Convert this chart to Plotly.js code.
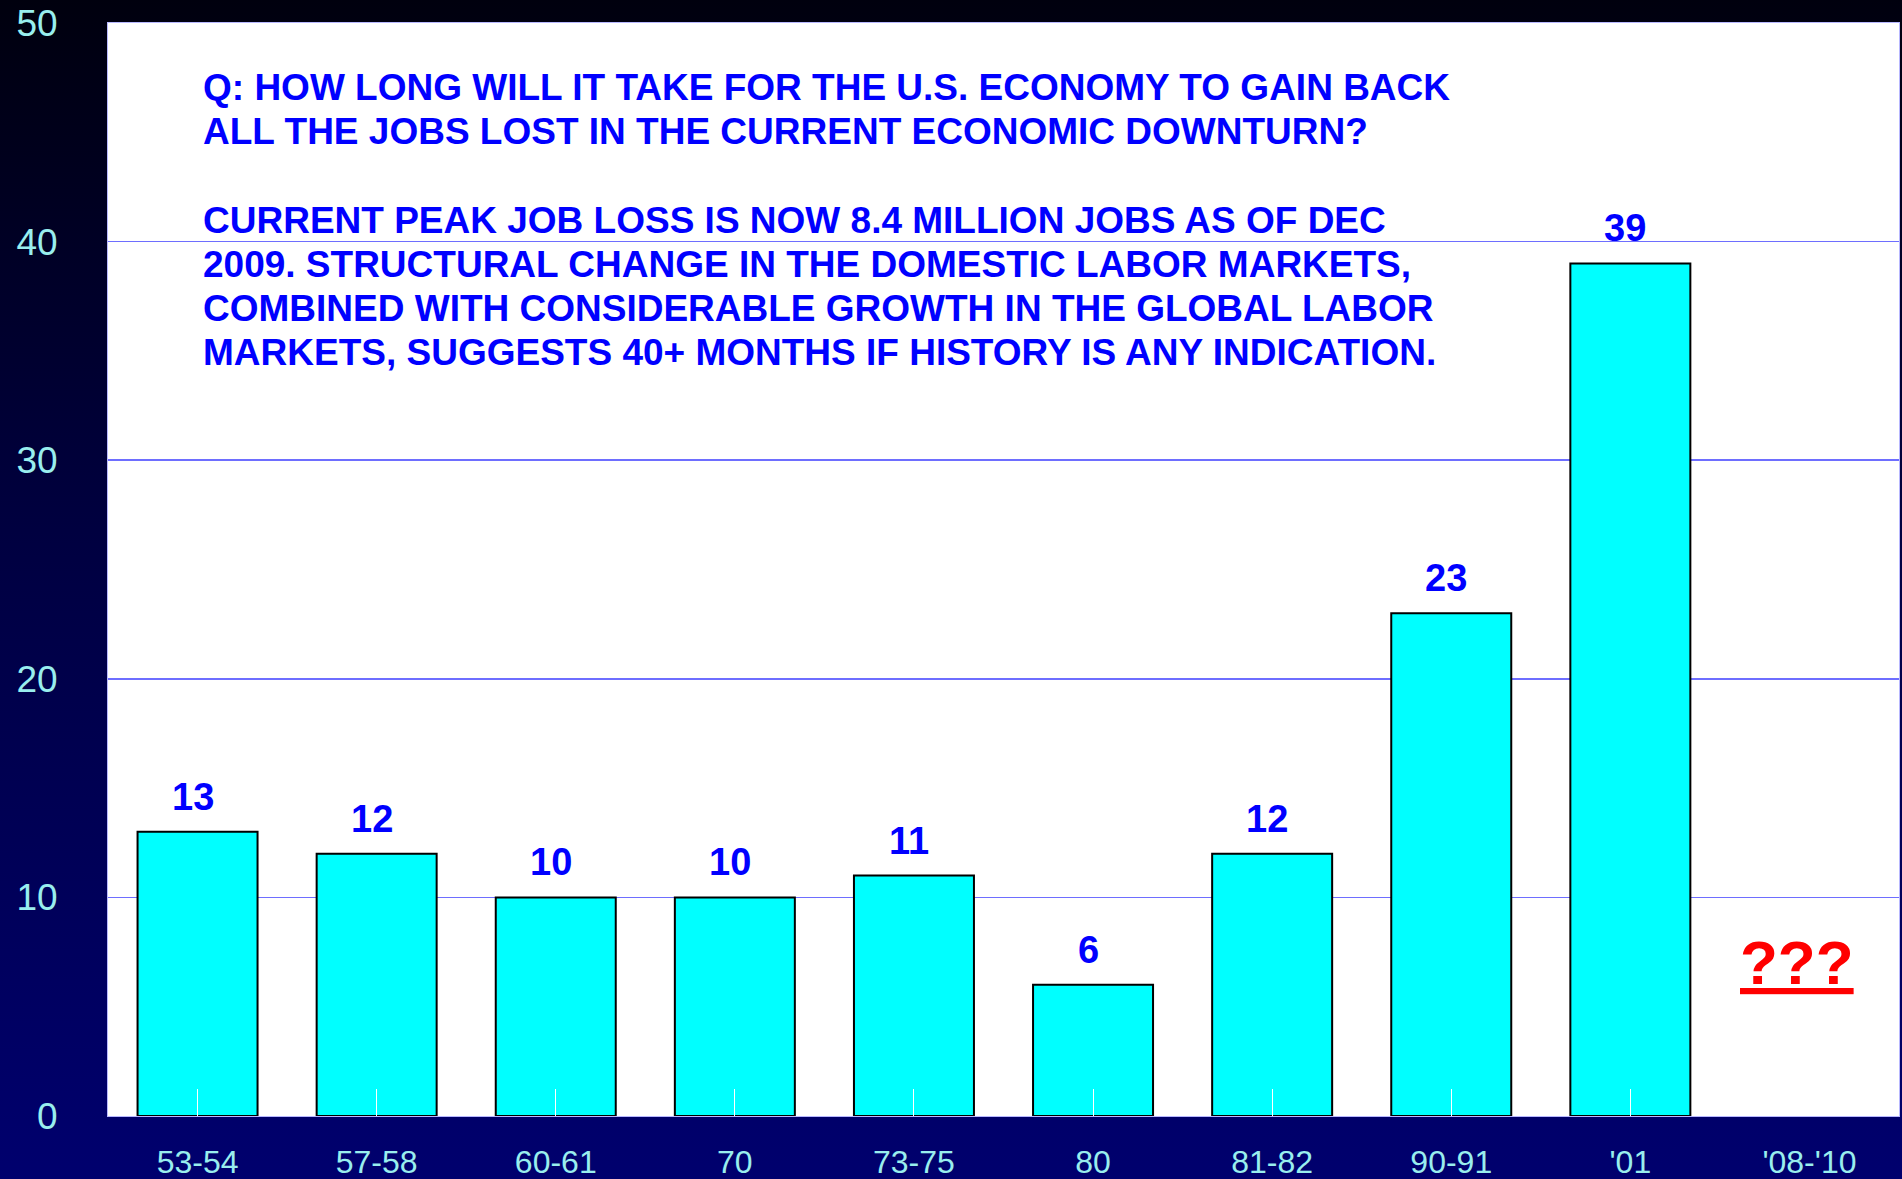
<!DOCTYPE html>
<html>
<head>
<meta charset="utf-8">
<script src="https://cdn.plot.ly/plotly-3.0.1.min.js"></script>
<style>
  html, body { margin: 0; padding: 0; width: 1902px; height: 1179px; overflow: hidden;
    background: linear-gradient(to bottom, #00000e 0%, #000040 45%, #00006e 100%); }
  #chart { width: 1902px; height: 1179px; }
</style>
</head>
<body>
<div id="chart"></div>
<script>
const categories = ["53-54", "57-58", "60-61", "70", "73-75", "80", "81-82", "90-91", "'01", "'08-'10"];
const monthsToRecover = [13, 12, 10, 10, 11, 6, 12, 23, 39, null];
const yTickValues = [0, 10, 20, 30, 40, 50];
const unknownLabel = "???";
const unknownCategoryIndex = 9;
const unknownLabelY = 7;
const noteLines = [
  "Q: HOW LONG WILL IT TAKE FOR THE U.S. ECONOMY TO GAIN BACK",
  "ALL THE JOBS LOST IN THE CURRENT ECONOMIC DOWNTURN?",
  "",
  "CURRENT PEAK JOB LOSS IS NOW 8.4 MILLION JOBS AS OF DEC",
  "2009. STRUCTURAL CHANGE IN THE DOMESTIC LABOR MARKETS,",
  "COMBINED WITH CONSIDERABLE GROWTH IN THE GLOBAL LABOR",
  "MARKETS, SUGGESTS 40+ MONTHS IF HISTORY IS ANY INDICATION."
];

const FONT = 'Liberation Sans, Arial, sans-serif';
const plotHeightPx = 1093;
const noteTopPaper = 0.941;
const noteStepPaper = 44.2 / plotHeightPx;

const trace = {
  type: 'bar',
  x: categories,
  y: monthsToRecover,
  width: 0.67,
  marker: { color: '#00ffff', line: { color: '#000000', width: 2 } },
  hoverinfo: 'x+y'
};

const valueAnnotations = categories.map((c, i) => monthsToRecover[i] == null ? null : ({
  x: i, y: monthsToRecover[i], xref: 'x', yref: 'y',
  text: '<b>' + monthsToRecover[i] + '</b>',
  showarrow: false, yanchor: 'bottom', xanchor: 'center', yshift: 12, xshift: -5,
  font: { family: FONT, size: 38, color: '#0000ff' }
})).filter(a => a);

const noteAnnotations = noteLines.map((line, i) => line === '' ? null : ({
  x: 0.052, y: noteTopPaper - i * noteStepPaper, xref: 'paper', yref: 'paper',
  xanchor: 'left', yanchor: 'middle', align: 'left', showarrow: false,
  text: '<b>' + line + '</b>',
  font: { family: FONT, size: 37, color: '#0000ff' }
})).filter(a => a);

const annotations = valueAnnotations.concat(noteAnnotations, [
  {
    x: unknownCategoryIndex, y: unknownLabelY, xref: 'x', yref: 'y',
    text: '<b><u>' + unknownLabel + '</u></b>', showarrow: false,
    xanchor: 'center', yanchor: 'middle', xshift: -12,
    font: { family: FONT, size: 62, color: '#ff0000' }
  }
]);

const layout = {
  width: 1902, height: 1179,
  margin: { l: 108, r: 3, t: 23, b: 63, pad: 0 },
  paper_bgcolor: 'rgba(0,0,0,0)',
  plot_bgcolor: '#ffffff',
  showlegend: false,
  xaxis: {
    type: 'category',
    range: [-0.5, categories.length - 0.5],
    ticks: 'inside', ticklen: 27, tickwidth: 1, tickcolor: '#ffffff',
    showgrid: false, zeroline: false,
    showline: true, linecolor: '#b8b8ff', linewidth: 1, mirror: true,
    tickfont: { family: FONT, size: 32, color: '#99eeee' },
    tickangle: 0,
    ticklabelstandoff: 18,
    layer: 'above traces'
  },
  yaxis: {
    range: [0, 50], tickvals: yTickValues, ticks: '',
    showgrid: true, gridcolor: '#6e6eff', gridwidth: 1.5,
    zeroline: false,
    showline: true, linecolor: '#b8b8ff', linewidth: 1, mirror: true,
    tickfont: { family: FONT, size: 37, color: '#99eeee' },
    ticklabelstandoff: 42
  },
  annotations: annotations
};

Plotly.newPlot('chart', [trace], layout, { displayModeBar: false, staticPlot: true });
</script>
</body>
</html>
